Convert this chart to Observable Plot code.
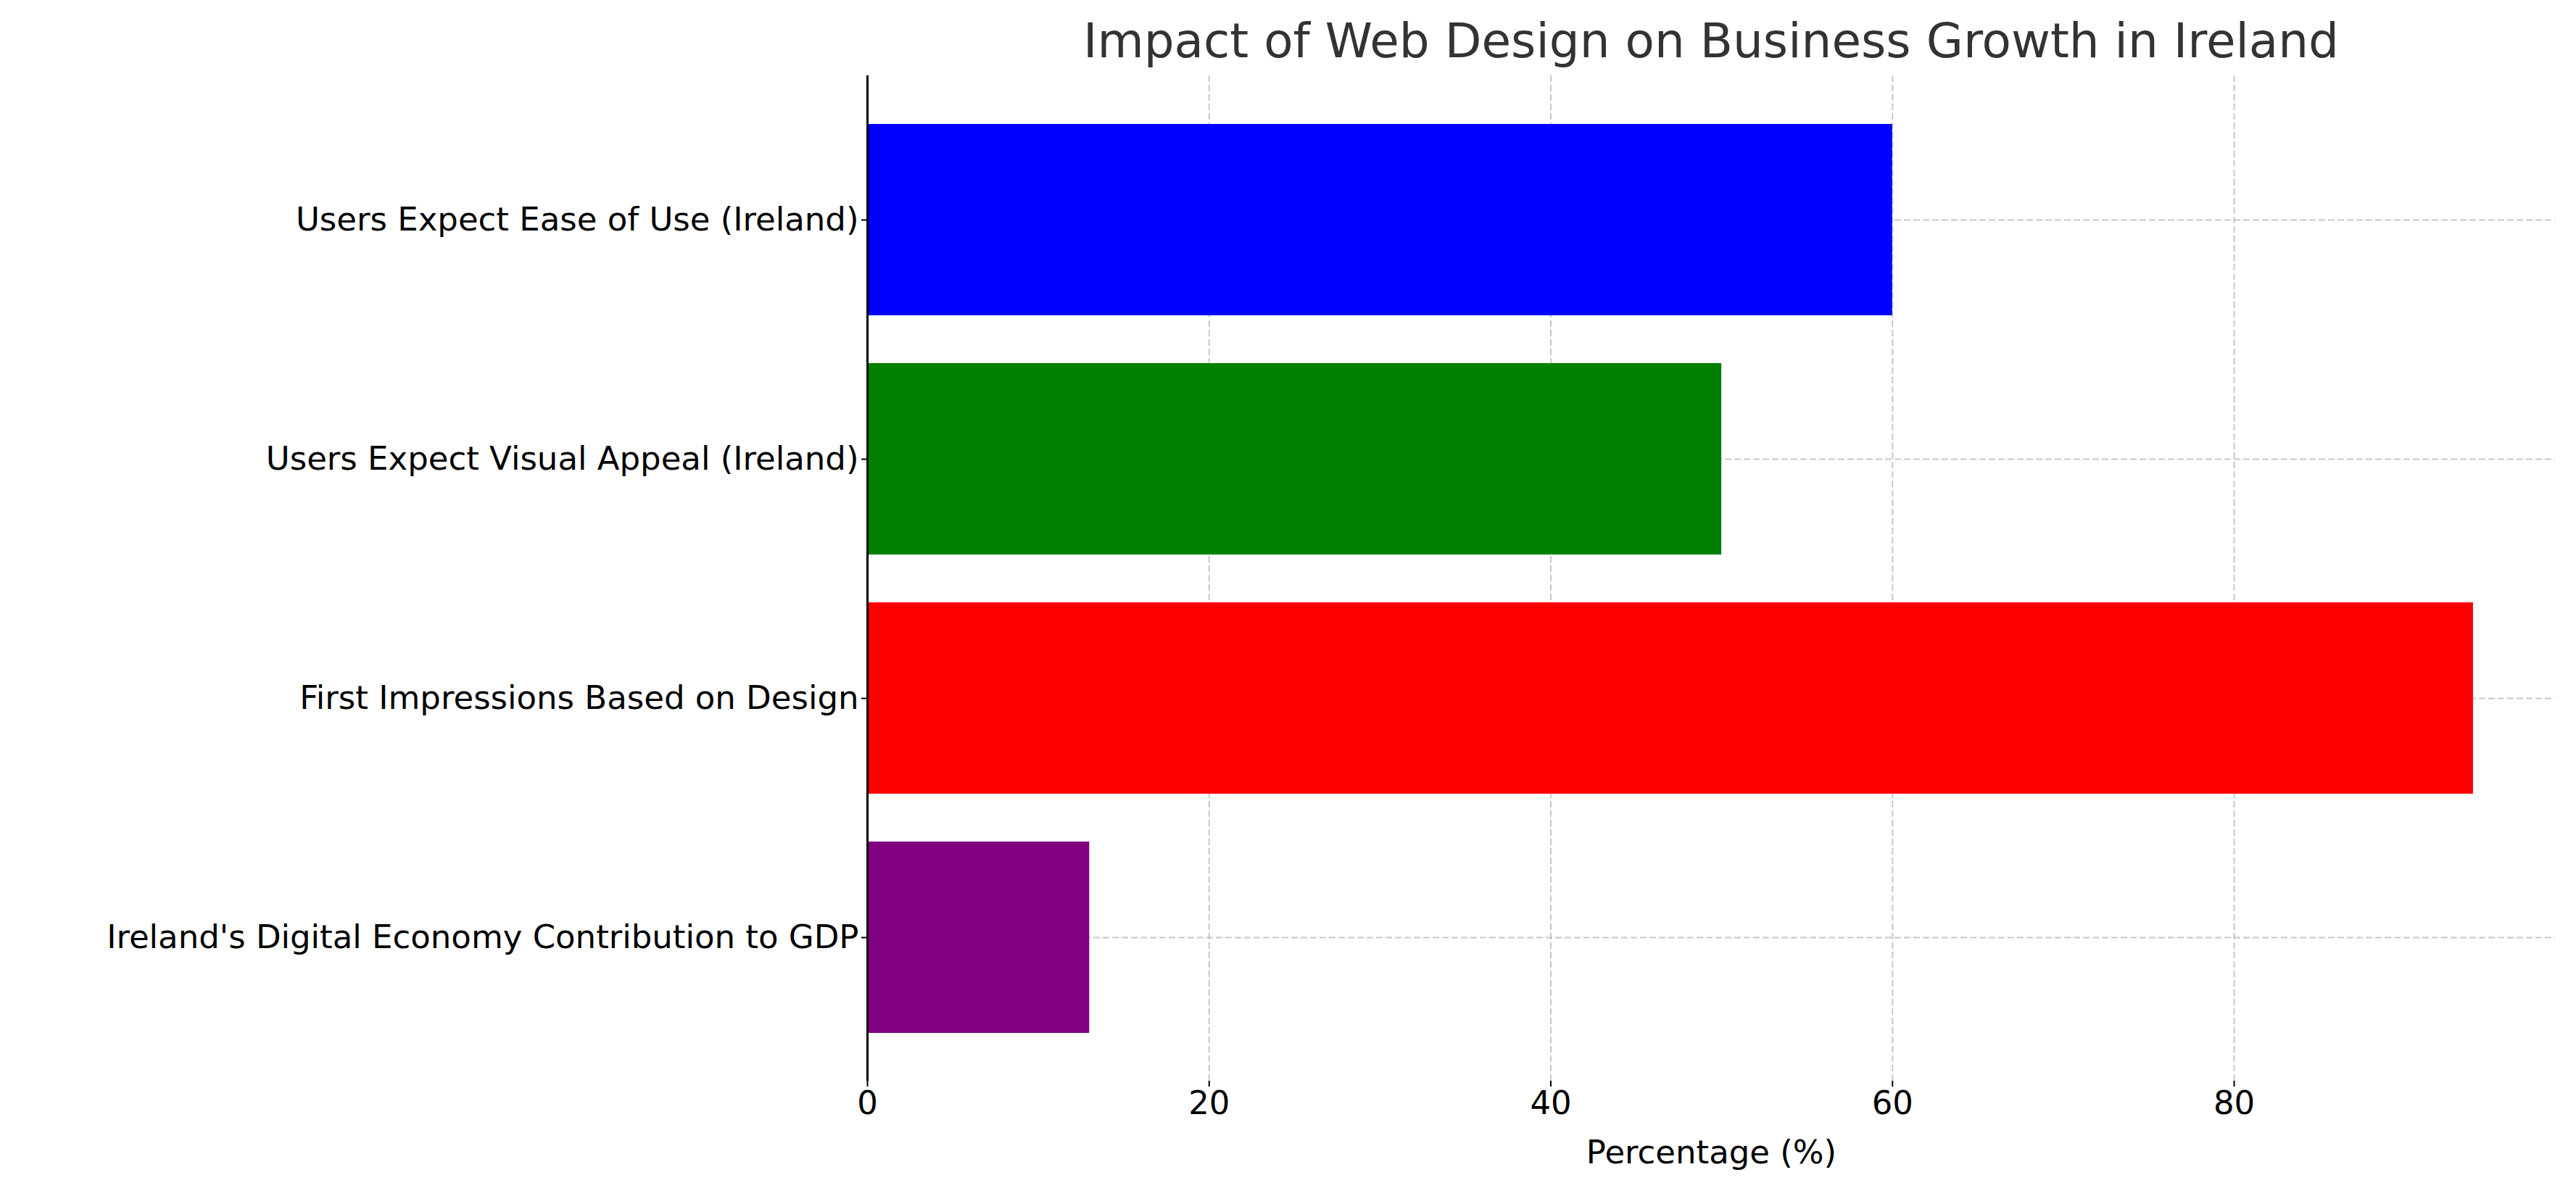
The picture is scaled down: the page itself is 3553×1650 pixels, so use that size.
<!DOCTYPE html>
<html><head><meta charset="utf-8">
<script src="https://cdn.jsdelivr.net/npm/d3@7"></script>
<script src="https://cdn.jsdelivr.net/npm/@observablehq/plot@0.6"></script>
<style>
body{margin:0;background:#fff;font-family:"DejaVu Sans",sans-serif;}
#wrap{position:relative;width:3553px;height:1650px;}
#title{position:absolute;left:1196px;width:2328px;top:18px;text-align:center;font-size:66px;color:#333;}
</style></head>
<body><div id="wrap"><div id="title">Impact of Web Design on Business Growth in Ireland</div></div>
<script>
const categories = ["Users Expect Ease of Use (Ireland)","Users Expect Visual Appeal (Ireland)","First Impressions Based on Design","Ireland's Digital Economy Contribution to GDP"];
const values = [60, 50, 94, 13];
const colors = ["blue","green","red","purple"];
const xTicks = [0,20,40,60,80];
const data = categories.map((c,i)=>({c, v: values[i], col: colors[i]}));
const plot = Plot.plot({
  width: 3553, height: 1650,
  marginLeft: 1196, marginRight: 29, marginTop: 104, marginBottom: 159,
  style: {fontFamily: "DejaVu Sans, sans-serif", fontSize: "45px", color: "#000", background: "#fff"},
  x: {domain: [0, 98.8], ticks: xTicks, label: null},
  y: {domain: categories, padding: 0.2, label: null},
  marks: [
    Plot.gridX(xTicks, {stroke: "#b0b0b0", strokeOpacity: 0.7, strokeDasharray: "9,4", strokeWidth: 2}),
    Plot.gridY(categories, {stroke: "#b0b0b0", strokeOpacity: 0.7, strokeDasharray: "9,4", strokeWidth: 2}),
    Plot.barX(data, {y: "c", x: "v", fill: "col"}),
    Plot.ruleX([0], {stroke: "black", strokeWidth: 3}),
    Plot.ruleY([0], {frameAnchor: "bottom", stroke: "black", strokeWidth: 3}),
    Plot.axisX(xTicks, {tickSize: 8, tickPadding: 6, fontSize: 45, strokeWidth: 2, label: null}),
    Plot.axisY(categories, {tickSize: 8, tickPadding: 4, fontSize: 45, strokeWidth: 2, label: null}),
    Plot.text(["Percentage (%)"], {frameAnchor: "bottom", dy: 113, fontSize: 45})
  ]
});
document.getElementById("wrap").prepend(plot);
</script></body></html>
